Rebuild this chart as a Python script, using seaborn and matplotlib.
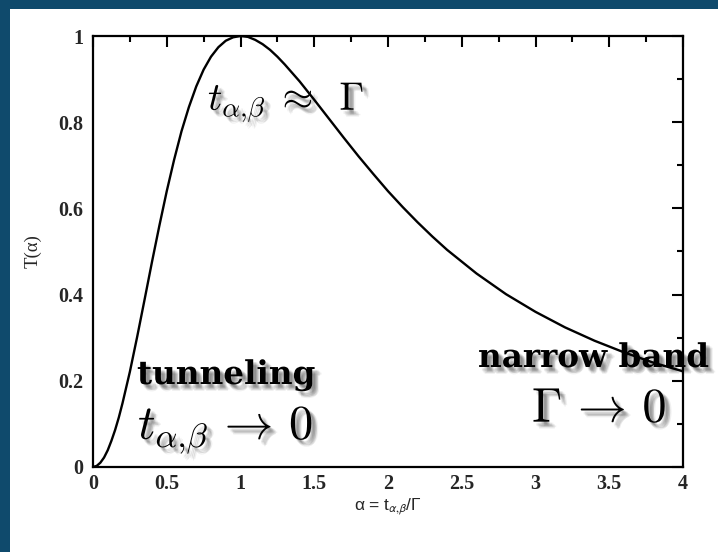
import matplotlib
matplotlib.use("Agg")
import matplotlib.pyplot as plt
import matplotlib.patheffects as pe
from matplotlib.patches import Rectangle
from matplotlib.ticker import MultipleLocator
import seaborn as sns
import pandas as pd

# Transmission T as a function of the coupling ratio alpha = t / Gamma
alpha = [0.0, 0.025, 0.05, 0.075, 0.1, 0.125, 0.15, 0.175, 0.2, 0.25, 0.3,
         0.35, 0.4, 0.45, 0.5, 0.55, 0.6, 0.65, 0.7, 0.75, 0.8, 0.85, 0.9,
         0.95, 1.0, 1.05, 1.1, 1.15, 1.2, 1.25, 1.3, 1.4, 1.5, 1.6, 1.7, 1.8,
         1.9, 2.0, 2.1, 2.2, 2.3, 2.4, 2.6, 2.8, 3.0, 3.2, 3.4, 3.6, 3.8, 4.0]
transmission = [0.0, 0.0025, 0.010, 0.022, 0.039, 0.061, 0.086, 0.115, 0.148,
                0.221, 0.303, 0.389, 0.476, 0.560, 0.640, 0.713, 0.779, 0.835,
                0.883, 0.922, 0.952, 0.974, 0.989, 0.997, 1.0, 0.998, 0.991,
                0.981, 0.968, 0.952, 0.934, 0.895, 0.852, 0.808, 0.764, 0.721,
                0.680, 0.640, 0.603, 0.568, 0.535, 0.504, 0.449, 0.401, 0.360,
                0.324, 0.293, 0.266, 0.242, 0.222]

x_ticks = [0, 0.5, 1, 1.5, 2, 2.5, 3, 3.5, 4]
x_tick_labels = ["0", "0.5", "1", "1.5", "2", "2.5", "3", "3.5", "4"]
y_ticks = [0, 0.2, 0.4, 0.6, 0.8, 1.0]
y_tick_labels = ["0", "0.2", "0.4", "0.6", "0.8", "1"]

df = pd.DataFrame({"alpha": alpha, "T": transmission})

sns.set_style("white")
plt.rcParams["mathtext.fontset"] = "cm"
plt.rcParams["font.family"] = ["Liberation Serif", "DejaVu Serif"]

BLUE = "#0f4a6c"
W, H = 718, 552
fig = plt.figure(figsize=(W / 100, H / 100), dpi=100, facecolor=BLUE)
fig.patches.append(Rectangle((10 / W, 0), 1, 1 - 9 / H,
                             transform=fig.transFigure, facecolor="white",
                             edgecolor="none", zorder=-5))

ax = fig.add_axes([93 / W, 1 - 467 / H, (683 - 93) / W, (467 - 36) / H])
ax.set_facecolor("white")

sns.lineplot(data=df, x="alpha", y="T", ax=ax, color="black", linewidth=1.7,
             zorder=5)

ax.set_xlim(0, 4)
ax.set_ylim(0, 1)
ax.set_xticks(x_ticks)
ax.set_xticklabels(x_tick_labels)
ax.set_yticks(y_ticks)
ax.set_yticklabels(y_tick_labels)
ax.xaxis.set_minor_locator(MultipleLocator(0.25))
ax.yaxis.set_minor_locator(MultipleLocator(0.1))
ax.tick_params(which="both", direction="in", top=True, right=True,
               width=1.5, color="black")
ax.tick_params(which="major", length=8, labelsize=14.5)
ax.tick_params(which="minor", length=4)
ax.tick_params(axis="y", pad=7)
ax.tick_params(axis="x", pad=5)
for lab in ax.get_xticklabels() + ax.get_yticklabels():
    lab.set_fontweight("bold")
for sp in ax.spines.values():
    sp.set_visible(True)
    sp.set_linewidth(1.6)
    sp.set_color("black")
    sp.set_zorder(6)

ax.set_xlabel(r"α = t$_{\alpha{,}\beta}$/Γ", fontsize=12.5,
              fontfamily="Liberation Sans", math_fontfamily="stixsans",
              labelpad=2)
ax.set_ylabel("T(α)", fontsize=13.5, labelpad=12)

# soft drop shadow for the annotations
shadow = []
for dx, dy in [(2, -2), (3, -3), (4, -4), (3, -2), (2, -3), (4, -3), (3, -4),
               (5, -4), (4, -5)]:
    shadow.append(pe.SimplePatchShadow(offset=(dx, dy), shadow_rgbFace="black",
                                       alpha=0.06))
shadow.append(pe.Normal())


def note(x, y, s, size, **kw):
    t = ax.text(x / W, 1 - y / H, s, transform=fig.transFigure, fontsize=size,
                color="black", ha="left", va="baseline", zorder=3,
                clip_on=False, **kw)
    t.set_path_effects(shadow)
    return t


note(208, 110, r"$t_{\alpha{,}\beta}\;\approx\;\;\Gamma$", 28.5)
note(137, 384, "tunneling", 23.5, fontweight="bold", fontfamily="DejaVu Serif")
note(138, 439, r"$t_{\alpha{,}\beta}\, \rightarrow\, 0$", 35)
note(478, 367, "narrow band", 23.5, fontweight="bold", fontfamily="DejaVu Serif")
note(532, 422, r"$\Gamma\, \rightarrow\, 0$", 35)

fig.savefig("out.png", dpi=100, facecolor=BLUE)
